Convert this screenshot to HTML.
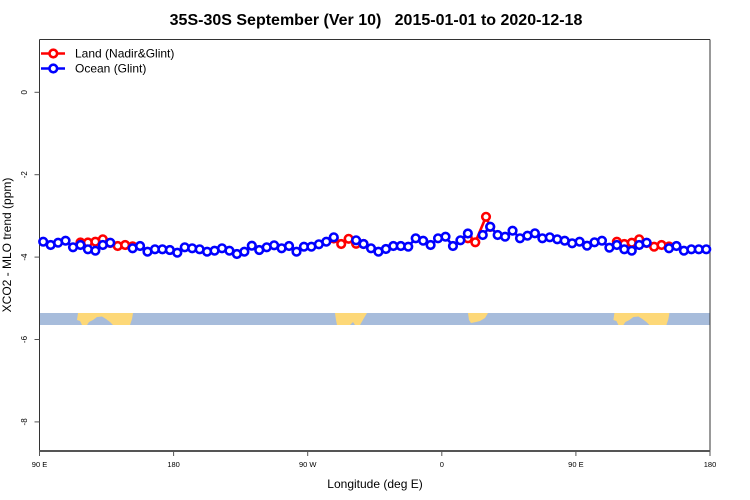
<!DOCTYPE html>
<html><head><meta charset="utf-8"><style>
html,body{margin:0;padding:0;background:#fff;}
svg{display:block;font-family:"Liberation Sans",Arial,sans-serif;}
</style></head><body>
<svg width="750" height="500" viewBox="0 0 750 500" xmlns="http://www.w3.org/2000/svg">
<rect width="750" height="500" fill="#fff"/>
<text x="376" y="25" text-anchor="middle" font-size="16" font-weight="bold" style="white-space:pre" xml:space="preserve">35S-30S September (Ver 10)   2015-01-01 to 2020-12-18</text>

<!-- map strip -->
<rect x="39.5" y="313" width="670.5" height="12" fill="#a7bcdb"/>
<g fill="#fdd878">
<path d="M78,313 L133,313 L132,319 L130,325 L113,325 L110,322 L106,319 L102,316.5 L97,317 L93,320 L89,322 L87,325 L82,325 L80,321 L77,320 Z"/>
<path d="M335,313 L367,313 L364,318 L360,325 L355,325 L353,322 L350,325 L337,325 L336,320 Z"/>
<path d="M468,313 L488,313 L485,318 L480,321 L476,322 L471,323 L469,320 Z"/>
<path transform="translate(536.4,0)" d="M78,313 L133,313 L132,319 L130,325 L113,325 L110,322 L106,319 L102,316.5 L97,317 L93,320 L89,322 L87,325 L82,325 L80,321 L77,320 Z"/>
</g>

<!-- axes -->
<g stroke="#333" stroke-width="1" fill="none">
<line x1="39.5" y1="39.5" x2="710" y2="39.5"/>
<line x1="39.5" y1="39.5" x2="39.5" y2="451"/>
<line x1="710" y1="39.5" x2="710" y2="451"/>
</g>
<line x1="39" y1="451" x2="710.5" y2="451" stroke="#555" stroke-width="2"/>
<g stroke="#555" stroke-width="1">
<line x1="34.5" y1="92.3" x2="39.5" y2="92.3"/>
<line x1="34.5" y1="174.7" x2="39.5" y2="174.7"/>
<line x1="34.5" y1="257.1" x2="39.5" y2="257.1"/>
<line x1="34.5" y1="339.5" x2="39.5" y2="339.5"/>
<line x1="34.5" y1="421.9" x2="39.5" y2="421.9"/>
<line x1="39.5" y1="451" x2="39.5" y2="456"/>
<line x1="173.6" y1="451" x2="173.6" y2="456"/>
<line x1="307.7" y1="451" x2="307.7" y2="456"/>
<line x1="441.8" y1="451" x2="441.8" y2="456"/>
<line x1="575.9" y1="451" x2="575.9" y2="456"/>
<line x1="710" y1="451" x2="710" y2="456"/>
</g>
<g font-size="8" text-anchor="middle" fill="#000">
<text transform="translate(27,92.3) rotate(-90)">0</text>
<text transform="translate(27,174.7) rotate(-90)">-2</text>
<text transform="translate(27,257.1) rotate(-90)">-4</text>
<text transform="translate(27,339.5) rotate(-90)">-6</text>
<text transform="translate(27,421.9) rotate(-90)">-8</text>
</g>
<g font-size="7.5" text-anchor="middle" fill="#000">
<text x="39.5" y="467">90 E</text>
<text x="173.6" y="467">180</text>
<text x="307.7" y="467">90 W</text>
<text x="441.8" y="467">0</text>
<text x="575.9" y="467">90 E</text>
<text x="710" y="467">180</text>
</g>
<text x="375" y="488" font-size="12" text-anchor="middle">Longitude (deg E)</text>
<text transform="translate(11,245) rotate(-90)" font-size="12" text-anchor="middle">XCO2 - MLO trend (ppm)</text>

<!-- legend -->
<line x1="41" y1="53.5" x2="65" y2="53.5" stroke="#f00" stroke-width="2.6"/>
<circle cx="53.3" cy="53.5" r="3.8" fill="#fff" stroke="#f00" stroke-width="2.6"/>
<text x="75" y="57.5" font-size="12">Land (Nadir&amp;Glint)</text>
<line x1="41" y1="68.5" x2="65" y2="68.5" stroke="#00f" stroke-width="2.6"/>
<circle cx="53.3" cy="68.5" r="3.8" fill="#fff" stroke="#00f" stroke-width="2.6"/>
<text x="75" y="72.5" font-size="12">Ocean (Glint)</text>

<!-- Land series -->
<g stroke="#f00" stroke-width="2.6" fill="none">
<polyline points="80.45,242.5 87.9,242.5 95.35,241.7 102.8,239.3 110.25,243 117.7,246 125.15,245 132.6,246.3"/>
<polyline points="333.75,238.5 341.2,244 348.65,238.8 356.1,243.8 363.55,244"/>
<polyline points="467.85,238.3 475.3,242.3 486,216.8 490.2,227"/>
<polyline points="616.85,241.7 624.3,244 631.75,242.7 639.2,239.3 646.65,243 654.1,246.7 661.55,245 669,246.5"/>
</g>
<g stroke="#f00" stroke-width="2.6" fill="#fff">
<circle cx="80.45" cy="242.5" r="3.8"/><circle cx="87.9" cy="242.5" r="3.8"/><circle cx="95.35" cy="241.7" r="3.8"/><circle cx="102.8" cy="239.3" r="3.8"/><circle cx="110.25" cy="243" r="3.8"/><circle cx="117.7" cy="246" r="3.8"/><circle cx="125.15" cy="245" r="3.8"/><circle cx="132.6" cy="246.3" r="3.8"/>
<circle cx="333.75" cy="238.5" r="3.8"/><circle cx="341.2" cy="244" r="3.8"/><circle cx="348.65" cy="238.8" r="3.8"/><circle cx="356.1" cy="243.8" r="3.8"/><circle cx="363.55" cy="244" r="3.8"/>
<circle cx="467.85" cy="238.3" r="3.8"/><circle cx="475.3" cy="242.3" r="3.8"/><circle cx="486" cy="216.8" r="3.8"/><circle cx="490.2" cy="227" r="3.8"/>
<circle cx="616.85" cy="241.7" r="3.8"/><circle cx="624.3" cy="244" r="3.8"/><circle cx="631.75" cy="242.7" r="3.8"/><circle cx="639.2" cy="239.3" r="3.8"/><circle cx="646.65" cy="243" r="3.8"/><circle cx="654.1" cy="246.7" r="3.8"/><circle cx="661.55" cy="245" r="3.8"/><circle cx="669" cy="246.5" r="3.8"/>
</g>

<!-- Ocean series -->
<g stroke="#00f" stroke-width="2.6" fill="none">
<polyline points="43.2,241.7 50.65,245 58.1,242.7 65.55,240.7 73,247.3 80.45,245 87.9,249.3 95.35,250.7 102.8,245 110.25,242.7"/>
<polyline points="132.6,248.3 140.05,246 147.5,251.7 154.95,249.3 162.4,249.3 169.85,250 177.3,252.7 184.75,247.3 192.2,248.3 199.65,249.3 207.1,251.7 214.55,250.7 222,248.3 229.45,250.7 236.9,254 244.35,251.7 251.8,245.7 259.25,250 266.7,247.3 274.15,245.3 281.6,248.3 289.05,246 296.5,251.7 303.95,246.7 311.4,246.7 318.85,244.3 326.3,241.7 333.75,237.3"/>
<polyline points="356.1,240.3 363.55,244 371,248.3 378.45,251.7 385.9,249 393.35,246 400.8,246 408.25,246.7 415.7,238.3 423.15,240.7 430.6,245 438.05,238.3 445.5,236.7 452.95,246 460.4,240.3 467.85,233.5"/>
<polyline points="482.75,235 490.2,226.7 497.65,235 505.1,236.7 512.55,230.7 520,238.3 527.45,235.7 534.9,233.3 542.35,238.3 549.8,237.3 557.25,239.3 564.7,240.7 572.15,243.3 579.6,241.7 587.05,245.7 594.5,242.3 601.95,240.7 609.4,247.7 616.85,245 624.3,249.3 631.75,250.7 639.2,245 646.65,242.7"/>
<polyline points="669,248.3 676.45,246 683.9,250.7 691.35,249.3 698.8,249.3 706.25,249.3"/>
</g>
<g stroke="#00f" stroke-width="2.6" fill="#fff">
<circle cx="43.2" cy="241.7" r="3.8"/><circle cx="50.65" cy="245" r="3.8"/><circle cx="58.1" cy="242.7" r="3.8"/><circle cx="65.55" cy="240.7" r="3.8"/><circle cx="73" cy="247.3" r="3.8"/><circle cx="80.45" cy="245" r="3.8"/><circle cx="87.9" cy="249.3" r="3.8"/><circle cx="95.35" cy="250.7" r="3.8"/><circle cx="102.8" cy="245" r="3.8"/><circle cx="110.25" cy="242.7" r="3.8"/>
<circle cx="132.6" cy="248.3" r="3.8"/><circle cx="140.05" cy="246" r="3.8"/><circle cx="147.5" cy="251.7" r="3.8"/><circle cx="154.95" cy="249.3" r="3.8"/><circle cx="162.4" cy="249.3" r="3.8"/><circle cx="169.85" cy="250" r="3.8"/><circle cx="177.3" cy="252.7" r="3.8"/><circle cx="184.75" cy="247.3" r="3.8"/><circle cx="192.2" cy="248.3" r="3.8"/><circle cx="199.65" cy="249.3" r="3.8"/><circle cx="207.1" cy="251.7" r="3.8"/><circle cx="214.55" cy="250.7" r="3.8"/><circle cx="222" cy="248.3" r="3.8"/><circle cx="229.45" cy="250.7" r="3.8"/><circle cx="236.9" cy="254" r="3.8"/><circle cx="244.35" cy="251.7" r="3.8"/><circle cx="251.8" cy="245.7" r="3.8"/><circle cx="259.25" cy="250" r="3.8"/><circle cx="266.7" cy="247.3" r="3.8"/><circle cx="274.15" cy="245.3" r="3.8"/><circle cx="281.6" cy="248.3" r="3.8"/><circle cx="289.05" cy="246" r="3.8"/><circle cx="296.5" cy="251.7" r="3.8"/><circle cx="303.95" cy="246.7" r="3.8"/><circle cx="311.4" cy="246.7" r="3.8"/><circle cx="318.85" cy="244.3" r="3.8"/><circle cx="326.3" cy="241.7" r="3.8"/><circle cx="333.75" cy="237.3" r="3.8"/>
<circle cx="356.1" cy="240.3" r="3.8"/><circle cx="363.55" cy="244" r="3.8"/><circle cx="371" cy="248.3" r="3.8"/><circle cx="378.45" cy="251.7" r="3.8"/><circle cx="385.9" cy="249" r="3.8"/><circle cx="393.35" cy="246" r="3.8"/><circle cx="400.8" cy="246" r="3.8"/><circle cx="408.25" cy="246.7" r="3.8"/><circle cx="415.7" cy="238.3" r="3.8"/><circle cx="423.15" cy="240.7" r="3.8"/><circle cx="430.6" cy="245" r="3.8"/><circle cx="438.05" cy="238.3" r="3.8"/><circle cx="445.5" cy="236.7" r="3.8"/><circle cx="452.95" cy="246" r="3.8"/><circle cx="460.4" cy="240.3" r="3.8"/><circle cx="467.85" cy="233.5" r="3.8"/>
<circle cx="482.75" cy="235" r="3.8"/><circle cx="490.2" cy="226.7" r="3.8"/><circle cx="497.65" cy="235" r="3.8"/><circle cx="505.1" cy="236.7" r="3.8"/><circle cx="512.55" cy="230.7" r="3.8"/><circle cx="520" cy="238.3" r="3.8"/><circle cx="527.45" cy="235.7" r="3.8"/><circle cx="534.9" cy="233.3" r="3.8"/><circle cx="542.35" cy="238.3" r="3.8"/><circle cx="549.8" cy="237.3" r="3.8"/><circle cx="557.25" cy="239.3" r="3.8"/><circle cx="564.7" cy="240.7" r="3.8"/><circle cx="572.15" cy="243.3" r="3.8"/><circle cx="579.6" cy="241.7" r="3.8"/><circle cx="587.05" cy="245.7" r="3.8"/><circle cx="594.5" cy="242.3" r="3.8"/><circle cx="601.95" cy="240.7" r="3.8"/><circle cx="609.4" cy="247.7" r="3.8"/><circle cx="616.85" cy="245" r="3.8"/><circle cx="624.3" cy="249.3" r="3.8"/><circle cx="631.75" cy="250.7" r="3.8"/><circle cx="639.2" cy="245" r="3.8"/><circle cx="646.65" cy="242.7" r="3.8"/>
<circle cx="669" cy="248.3" r="3.8"/><circle cx="676.45" cy="246" r="3.8"/><circle cx="683.9" cy="250.7" r="3.8"/><circle cx="691.35" cy="249.3" r="3.8"/><circle cx="698.8" cy="249.3" r="3.8"/><circle cx="706.25" cy="249.3" r="3.8"/>
</g>
</svg>
</body></html>
